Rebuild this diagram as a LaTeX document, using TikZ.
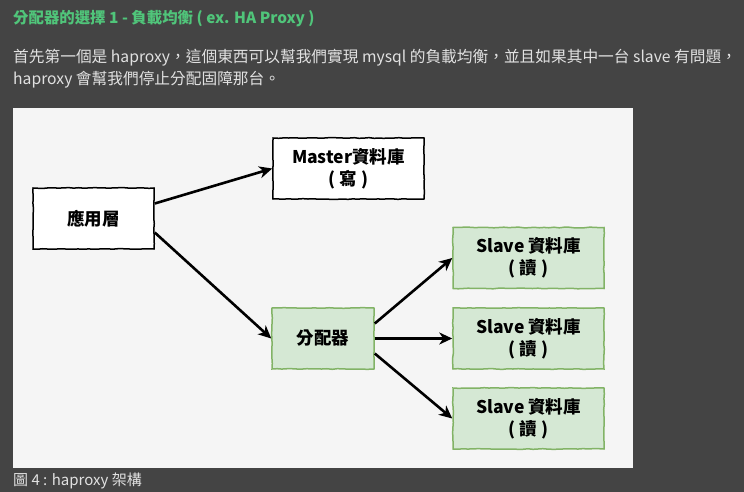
\documentclass[tikz,border=0pt]{standalone}
\usepackage{fontspec}
\setmainfont{Noto Sans CJK TC}
\usepackage{xcolor}
\usetikzlibrary{arrows.meta,decorations.pathmorphing}
\definecolor{pagegray}{RGB}{68,68,68}
\definecolor{panelgray}{RGB}{245,245,245}
\definecolor{titlegreen}{RGB}{80,197,122}
\definecolor{bodytext}{RGB}{225,225,225}
\definecolor{slavefill}{RGB}{213,232,212}
\definecolor{slaveline}{RGB}{130,179,102}

\tikzset{
    sketch/.style={decorate, decoration={random steps, segment length=5pt, amplitude=0.35pt}},
    plainbox/.style={draw=black, line width=1.5pt, fill=white, sketch, inner sep=0pt,
        minimum height=61pt, align=center, font=\fontsize{17.5}{22}\selectfont\bfseries},
    greenbox/.style={plainbox, draw=slaveline, fill=slavefill},
    flow/.style={line width=2.6pt, -{Stealth[length=13pt, width=12pt, inset=4pt]}}
}

\begin{document}
\begin{tikzpicture}[x=1pt, y=-1pt]
    \fill[pagegray] (0,0) rectangle (744,492);
    \useasboundingbox (0,0) rectangle (744,492);

    % heading and text
    \node[anchor=west, inner sep=0pt, text=titlegreen, font=\fontsize{15.4}{20}\selectfont\bfseries] (heading) at (13,19)
        {分配器的選擇 1 - 負載均衡 ( ex. HA Proxy )};
    \node[anchor=west, inner sep=0pt, text=bodytext, font=\fontsize{15.7}{20}\selectfont] (lineone) at (13,58)
        {首先第一個是 haproxy，這個東西可以幫我們實現 mysql 的負載均衡，並且如果其中一台 slave 有問題，};
    \node[anchor=west, inner sep=0pt, text=bodytext, font=\fontsize{15.7}{20}\selectfont] (linetwo) at (13,80)
        {haproxy 會幫我們停止分配固障那台。};

    % panel
    \fill[panelgray] (13,108) rectangle (633,468);

    % boxes
    \node[plainbox, minimum width=121pt] (app) at (93.5,218.5) {應用層};
    \node[plainbox, minimum width=151pt] (master) at (348.5,168.5) {Master資料庫\\( 寫 )};
    \node[greenbox, minimum width=102pt] (dispatch) at (323,338.5) {分配器};
    \node[greenbox, minimum width=151pt] (slaveA) at (528.5,258) {Slave 資料庫\\( 讀 )};
    \node[greenbox, minimum width=151pt] (slaveB) at (528.5,338.5) {Slave 資料庫\\( 讀 )};
    \node[greenbox, minimum width=151pt] (slaveC) at (528.5,418.5) {Slave 資料庫\\( 讀 )};

    % arrows
    \draw[flow] ([yshift=15pt]app.east) -- (master.west);
    \draw[flow] ([yshift=-14pt]app.east) -- (dispatch.west);
    \draw[flow] ([yshift=15pt]dispatch.east) -- (slaveA.west);
    \draw[flow] (dispatch.east) -- (slaveB.west);
    \draw[flow] ([yshift=-15pt]dispatch.east) -- (slaveC.west);

    % caption
    \node[anchor=west, inner sep=0pt, text=bodytext, font=\fontsize{15}{18}\selectfont] (caption) at (13,481)
        {圖 4 : haproxy 架構};
\end{tikzpicture}
\end{document}
